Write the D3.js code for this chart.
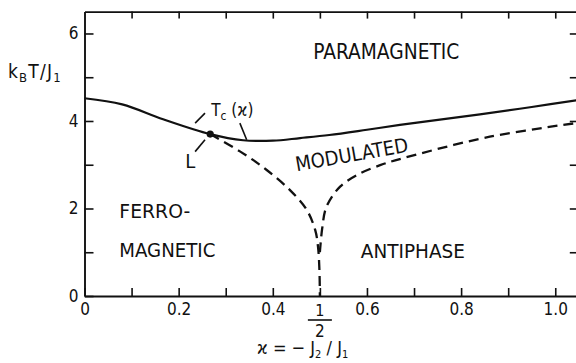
<!DOCTYPE html>
<html>
<head>
<meta charset="utf-8">
<script src="https://cdn.jsdelivr.net/npm/d3@7"></script>
<style>
  html, body { margin: 0; padding: 0; background: #fff; }
  svg { display: block; }
  text { font-family: "DejaVu Sans Condensed", "DejaVu Sans", sans-serif; fill: #111; }
</style>
</head>
<body>
<svg id="chart" width="576" height="363"></svg>
<script>
// Phase boundaries of the ANNNI model: temperature vs competition ratio kappa
const tcCurve = [
  [0.000, 4.52], [0.080, 4.38], [0.167, 4.04], [0.267, 3.70], [0.337, 3.56],
  [0.400, 3.55], [0.458, 3.61], [0.520, 3.68], [0.600, 3.80], [0.670, 3.91],
  [0.840, 4.15], [0.950, 4.32], [1.050, 4.48]
];
const ferroModBoundary = [
  [0.267, 3.70], [0.331, 3.30], [0.387, 2.88], [0.4365, 2.42], [0.472, 1.97],
  [0.490, 1.51], [0.496, 1.13], [0.499, 0.60], [0.500, 0.00]
];
const antiModBoundary = [
  [0.500, 1.00], [0.505, 1.55], [0.514, 2.04], [0.543, 2.50], [0.585, 2.80],
  [0.628, 2.99], [0.660, 3.10], [0.861, 3.64], [1.050, 3.96]
];
const lifshitzPoint = [0.267, 3.70];

const xTicks = [0, 0.1, 0.2, 0.3, 0.4, 0.5, 0.6, 0.7, 0.8, 0.9, 1.0];
const xTickLabels = { 0: "0", 0.2: "0.2", 0.4: "0.4", 0.6: "0.6", 0.8: "0.8", 1: "1.0" };
const yTicks = [0, 1, 2, 3, 4, 5, 6];
const yTickLabels = { 0: "0", 2: "2", 4: "4", 6: "6" };

const phaseLabels = [
  { text: "PARAMAGNETIC", x: 0.486, y: 5.41, len: 146, size: 21, angle: 0 },
  { text: "FERRO-",       x: 0.074, y: 1.79, len: 71,  size: 20, angle: 0 },
  { text: "MAGNETIC",     x: 0.074, y: 0.90, len: 96,  size: 20, angle: 0 },
  { text: "ANTIPHASE",    x: 0.587, y: 0.86, len: 104, size: 19, angle: 0 },
  { text: "MODULATED",    x: 0.451, y: 2.85, len: 114, size: 20, angle: -10 }
];

// leader lines for the annotations, in data units
const leaders = [
  [[0.256, 4.18], [0.235, 3.95]],
  [[0.330, 3.95], [0.3445, 3.57]],
  [[0.256, 3.57], [0.235, 3.30]]
];

const svg = d3.select("#chart");
const x = d3.scaleLinear().domain([0, 1.05]).range([84.5, 578.8]);
const y = d3.scaleLinear().domain([0, 6.5]).range([296, 11.6]);

const axisStroke = g => {
  g.selectAll("line").attr("stroke", "#111").attr("stroke-width", 1.6);
  g.selectAll(".domain").attr("stroke", "#111").attr("stroke-width", 1.9);
};

// bottom axis with labels
const gx = svg.append("g").attr("transform", `translate(0,${y(0)})`)
  .call(d3.axisBottom(x).tickValues(xTicks).tickSizeInner(-8).tickSizeOuter(0).tickPadding(7)
    .tickFormat(d => xTickLabels[Math.round(d * 10) / 10] || ""))
  .call(axisStroke);
gx.selectAll("text").attr("font-size", 17).attr("fill", "#111");

// top axis, ticks only
svg.append("g").attr("transform", `translate(0,${y(6.5)})`)
  .call(d3.axisTop(x).tickValues(xTicks.filter(d => d > 0)).tickSizeInner(-7).tickSizeOuter(0).tickFormat(""))
  .call(axisStroke);

// left axis with labels
const gy = svg.append("g").attr("transform", `translate(${x(0)},0)`)
  .call(d3.axisLeft(y).tickValues(yTicks).tickSizeInner(-9).tickSizeOuter(0).tickPadding(6)
    .tickFormat(d => yTickLabels[d] || ""))
  .call(axisStroke);
gy.selectAll("text").attr("font-size", 17).attr("fill", "#111");

// right axis, ticks only
svg.append("g").attr("transform", `translate(${x(1.05)},0)`)
  .call(d3.axisRight(y).tickValues(yTicks.filter(d => d > 0)).tickSizeInner(-9).tickSizeOuter(0).tickFormat(""))
  .call(axisStroke);

// fraction 1/2 under the kappa = 1/2 point
const half = svg.append("g").attr("transform", `translate(${x(0.5)},${y(0)})`);
half.append("text").attr("x", 0).attr("y", 20).attr("text-anchor", "middle").attr("font-size", 16).text("1");
half.append("line").attr("x1", -12).attr("x2", 12).attr("y1", 24).attr("y2", 24)
  .attr("stroke", "#111").attr("stroke-width", 1.6);
half.append("text").attr("x", 0).attr("y", 41).attr("text-anchor", "middle").attr("font-size", 17).text("2");

// axis titles
const xt = svg.append("text").attr("x", 257).attr("y", 354).attr("font-size", 18);
xt.append("tspan").text("ϰ = − J");
xt.append("tspan").attr("font-size", 11).attr("dy", 3.5).text("2");
xt.append("tspan").attr("dy", -3.5).text(" / J");
xt.append("tspan").attr("font-size", 11).attr("dy", 3.5).text("1");

const yt = svg.append("text").attr("x", 8).attr("y", 78).attr("font-size", 19).attr("letter-spacing", 1.2);
yt.append("tspan").text("k");
yt.append("tspan").attr("font-size", 13).attr("dy", 4).text("B");
yt.append("tspan").attr("dy", -4).text("T/J");
yt.append("tspan").attr("font-size", 13).attr("dy", 4).text("1");

// phase boundaries
const line = d3.line().x(d => x(d[0])).y(d => y(d[1])).curve(d3.curveCatmullRom.alpha(0.5));
svg.append("path").datum(tcCurve).attr("d", line)
  .attr("fill", "none").attr("stroke", "#111").attr("stroke-width", 2.2);
svg.append("path").datum(ferroModBoundary).attr("d", line)
  .attr("fill", "none").attr("stroke", "#111").attr("stroke-width", 2.3).attr("stroke-dasharray", "10,6");
svg.append("path").datum(antiModBoundary).attr("d", line)
  .attr("fill", "none").attr("stroke", "#111").attr("stroke-width", 2.3).attr("stroke-dasharray", "10,6");

// Lifshitz point
svg.append("circle").attr("cx", x(lifshitzPoint[0])).attr("cy", y(lifshitzPoint[1])).attr("r", 3.6).attr("fill", "#111");

// annotation leaders and labels
svg.selectAll("line.leader").data(leaders).join("line").attr("class", "leader")
  .attr("x1", d => x(d[0][0])).attr("y1", d => y(d[0][1]))
  .attr("x2", d => x(d[1][0])).attr("y2", d => y(d[1][1]))
  .attr("stroke", "#111").attr("stroke-width", 1.6);

const tc = svg.append("text").attr("x", x(0.269)).attr("y", 116).attr("font-size", 17);
tc.append("tspan").text("T");
tc.append("tspan").attr("font-size", 12).attr("dy", 4).text("c");
tc.append("tspan").attr("dy", -4).text(" (ϰ)");

svg.append("text").attr("x", x(0.214)).attr("y", 168).attr("font-size", 20).text("L");

// phase region names
svg.selectAll("text.phase").data(phaseLabels).join("text").attr("class", "phase")
  .attr("transform", d => `translate(${x(d.x)},${y(d.y)}) rotate(${d.angle})`)
  .attr("font-size", d => d.size)
  .attr("textLength", d => d.len)
  .attr("lengthAdjust", "spacingAndGlyphs")
  .text(d => d.text);
</script>
</body>
</html>
